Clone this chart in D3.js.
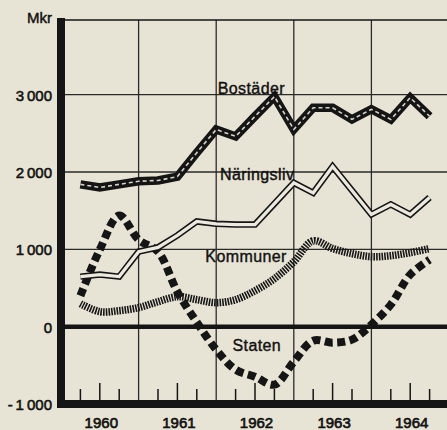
<!DOCTYPE html>
<html>
<head>
<meta charset="utf-8">
<script src="https://cdn.jsdelivr.net/npm/d3@7"></script>
<style>
  html, body { margin: 0; padding: 0; background: #e8e4d5; }
  svg { display: block; }
  text { font-family: "Liberation Sans", Arial, sans-serif; fill: #111; }
</style>
</head>
<body>
<svg id="chart" width="447" height="430"></svg>
<script>
// ---- data (Mkr, quarterly) ----
const quarters = [1960.25, 1960.5, 1960.75, 1961, 1961.25, 1961.5, 1961.75, 1962, 1962.25, 1962.5,
                  1962.75, 1963, 1963.25, 1963.5, 1963.75, 1964, 1964.25, 1964.5, 1964.75];
const bostader   = [1840, 1800, 1840, 1880, 1890, 1940, 2250, 2550, 2460, 2720,
                    2975, 2550, 2830, 2830, 2680, 2810, 2680, 2960, 2720];
const naringsliv = [647, 673, 647, 970, 1025, 1180, 1360, 1330, 1320, 1320,
                    1590, 1860, 1730, 2070, 1760, 1450, 1580, 1450, 1670];
const kommuner   = [297, 194, 207, 246, 323, 388, 349, 310, 349, 465,
                    620, 840, 1110, 1010, 944, 905, 918, 957, 1010];
const staten     = [400, 996, 1436, 1125, 970, 450, 57, -298, -556, -647,
                    -750, -453, -181, -207, -168, 26, 285, 673, 867];
const years = [1960, 1961, 1962, 1963, 1964];
const yTicks = [3000, 2000, 1000, 0, -1000];
const yTickLabels = ["3\u2009000", "2\u2009000", "1\u2009000", "0", "-\u20091\u2009000"];
const seriesLabels = [
  {name: "Bostäder",   t: 1962.02, v: 3005},
  {name: "Näringsliv", t: 1962.05, v: 1895},
  {name: "Kommuner",   t: 1961.86, v: 830},
  {name: "Staten",     t: 1962.21, v: -310}
];

const svg = d3.select("#chart");
const x = d3.scaleLinear().domain([1960, 1965]).range([61, 449]);
const y = d3.scaleLinear().domain([-1000, 3965]).range([404, 20]);
const ink = "#151515";

// vertical year lines
svg.append("g").selectAll("line").data(years.slice(1)).join("line")
  .attr("x1", d => x(d)).attr("x2", d => x(d))
  .attr("y1", y(3965)).attr("y2", y(-1000))
  .attr("stroke", "#2a2a2a").attr("stroke-width", 1.3);

// horizontal grid lines
svg.append("g").selectAll("line").data([3000, 2000, 1000]).join("line")
  .attr("x1", x(1960)).attr("x2", 447)
  .attr("y1", d => y(d)).attr("y2", d => y(d))
  .attr("stroke", "#2a2a2a").attr("stroke-width", 1.3);

// top border
svg.append("line").attr("x1", x(1960)).attr("x2", 447)
  .attr("y1", y(3965)).attr("y2", y(3965))
  .attr("stroke", ink).attr("stroke-width", 1.6);

// zero line
svg.append("line").attr("x1", x(1960)).attr("x2", 447)
  .attr("y1", y(0)).attr("y2", y(0))
  .attr("stroke", ink).attr("stroke-width", 4.5);

// quarter ticks on bottom axis
const qTicks = [];
years.forEach(yr => [0.25, 0.5, 0.75].forEach(q => qTicks.push(yr + q)));
svg.append("g").selectAll("line").data(qTicks).join("line")
  .attr("x1", d => x(d)).attr("x2", d => x(d))
  .attr("y1", y(-1000))
  .attr("y2", d => y(-1000) - (Math.abs((d % 1) - 0.5) < 0.01 ? 21 : 15))
  .attr("stroke", ink).attr("stroke-width", 1.5);

// bottom axis (thick)
svg.append("line").attr("x1", 57).attr("x2", 447)
  .attr("y1", y(-1000)).attr("y2", y(-1000))
  .attr("stroke", ink).attr("stroke-width", 8);

// left axis (thick)
svg.append("line").attr("x1", x(1960)).attr("x2", x(1960))
  .attr("y1", y(3965) - 2).attr("y2", y(-1000) + 4)
  .attr("stroke", ink).attr("stroke-width", 8);

// y tick labels
svg.append("g").selectAll("text").data(yTicks).join("text")
  .attr("x", 52).attr("y", d => y(d) + 6)
  .attr("text-anchor", "end").attr("font-size", 15)
  .attr("stroke", "#111").attr("stroke-width", 0.55)
  .text((d, i) => yTickLabels[i]);

svg.append("text").attr("x", 52).attr("y", 23)
  .attr("text-anchor", "end").attr("font-size", 15)
  .attr("stroke", "#111").attr("stroke-width", 0.45)
  .text("Mkr");

// year labels
svg.append("g").selectAll("text").data(years).join("text")
  .attr("x", d => x(d + 0.5) + 1.5).attr("y", 428)
  .attr("text-anchor", "middle").attr("font-size", 15)
  .attr("stroke", "#111").attr("stroke-width", 0.65)
  .text(d => d);

// ---- series ----
const pts = arr => arr.map((v, i) => [quarters[i], v]);
const lineLin = d3.line().x(d => x(d[0])).y(d => y(d[1]));
const lineSmooth = d3.line().x(d => x(d[0])).y(d => y(d[1])).curve(d3.curveCatmullRom.alpha(0.5));

// Kommuner: hatched band
svg.append("path").attr("d", lineSmooth(pts(kommuner)))
  .attr("fill", "none").attr("stroke", "#161616").attr("stroke-width", 7.5)
  .attr("stroke-dasharray", "1.6,1.1");

// Staten: heavy square dashes
svg.append("path").attr("d", lineSmooth(pts(staten)))
  .attr("fill", "none").attr("stroke", ink).attr("stroke-width", 8)
  .attr("stroke-dasharray", "8,4.5");

// Näringsliv: double line
svg.append("path").attr("d", lineLin(pts(naringsliv)))
  .attr("fill", "none").attr("stroke", ink).attr("stroke-width", 6.5)
  .attr("stroke-linejoin", "miter");
svg.append("path").attr("d", lineLin(pts(naringsliv)))
  .attr("fill", "none").attr("stroke", "#ece9df").attr("stroke-width", 3.3)
  .attr("stroke-linejoin", "miter");

// Bostäder: thick black with light dashed core
svg.append("path").attr("d", lineLin(pts(bostader)))
  .attr("fill", "none").attr("stroke", ink).attr("stroke-width", 8.5)
  .attr("stroke-linejoin", "miter");
svg.append("path").attr("d", lineLin(pts(bostader)))
  .attr("fill", "none").attr("stroke", "#d6d3c8").attr("stroke-width", 1.6)
  .attr("stroke-dasharray", "4,3");

// series labels
svg.append("g").selectAll("text").data(seriesLabels).join("text")
  .attr("x", d => x(d.t)).attr("y", d => y(d.v))
  .attr("font-size", 16).attr("letter-spacing", 0.4)
  .attr("stroke", "#111").attr("stroke-width", 0.4)
  .text(d => d.name);
</script>
</body>
</html>
